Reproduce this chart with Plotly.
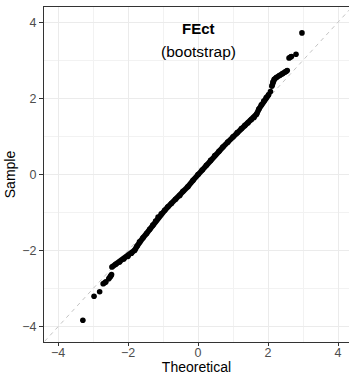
import plotly.graph_objects as go

# Normal Q-Q plot of bootstrap estimates (FEct).
# Each run below is a stretch of points dense enough to read as a solid band;
# isolated tail points are single-element runs.
lower_single_theo = [-3.29, -2.97, -2.81]
lower_single_samp = [-3.83, -3.20, -3.08]

lower_run1_theo = [-2.71, -2.63]
lower_run1_samp = [-2.87, -2.82]

lower_run2_theo = [-2.55, -2.50, -2.47]
lower_run2_samp = [-2.74, -2.68, -2.63]

band_theo = [-2.46, -2.35, -2.24, -2.12, -2.00, -1.90, -1.81, -1.74, -1.67, -1.57,
             -1.47, -1.38, -1.29, -1.21, -1.14, -1.05, -0.95, -0.86, -0.76, -0.64,
             -0.52, -0.43, -0.29, -0.14, 0.00, 0.12, 0.24, 0.36, 0.48, 0.60,
             0.71, 0.85, 1.00, 1.12, 1.24, 1.34, 1.43, 1.52, 1.60, 1.67,
             1.74, 1.81, 1.88, 1.95, 2.02]
band_samp = [-2.43, -2.36, -2.30, -2.22, -2.15, -2.07, -1.99, -1.88, -1.77, -1.66,
             -1.55, -1.44, -1.33, -1.22, -1.12, -1.03, -0.94, -0.85, -0.76, -0.65,
             -0.55, -0.44, -0.32, -0.15, 0.00, 0.12, 0.24, 0.37, 0.50, 0.61,
             0.72, 0.85, 0.99, 1.10, 1.21, 1.29, 1.36, 1.44, 1.50, 1.58,
             1.72, 1.83, 1.93, 2.02, 2.10]

upper_single1_theo = [2.07]
upper_single1_samp = [2.18]

upper_run1_theo = [2.11, 2.14, 2.18, 2.24, 2.33, 2.42, 2.50, 2.55]
upper_run1_samp = [2.32, 2.43, 2.50, 2.55, 2.60, 2.65, 2.70, 2.73]

upper_run2_theo = [2.60, 2.67]
upper_run2_samp = [3.06, 3.10]

upper_single2_theo = [2.80, 2.97]
upper_single2_samp = [3.16, 3.72]

runs = [
    (lower_single_theo[0:1], lower_single_samp[0:1]),
    (lower_single_theo[1:2], lower_single_samp[1:2]),
    (lower_single_theo[2:3], lower_single_samp[2:3]),
    (lower_run1_theo, lower_run1_samp),
    (lower_run2_theo, lower_run2_samp),
    (band_theo, band_samp),
    (upper_single1_theo, upper_single1_samp),
    (upper_run1_theo, upper_run1_samp),
    (upper_run2_theo, upper_run2_samp),
    (upper_single2_theo[0:1], upper_single2_samp[0:1]),
    (upper_single2_theo[1:2], upper_single2_samp[1:2]),
]

xs, ys = [], []
for tx, sy in runs:
    xs += list(tx) + [None]
    ys += list(sy) + [None]

# identity reference line
ref_vals = [-5, 5]

x_ticks = [-4, -2, 0, 2, 4]
y_ticks = [-4, -2, 0, 2, 4]

FONT = "Liberation Sans, Arial, Helvetica, sans-serif"

fig = go.Figure()
fig.add_trace(go.Scatter(
    x=ref_vals, y=ref_vals, mode="lines",
    line=dict(color="#C4C4C4", width=1, dash="4px,4px"),
    hoverinfo="skip", showlegend=False,
))
fig.add_trace(go.Scatter(
    x=xs, y=ys, mode="lines+markers",
    line=dict(color="black", width=5.6),
    marker=dict(color="black", size=5.6),
    connectgaps=False, showlegend=False,
))

fig.add_annotation(x=0, y=3.84, xref="x", yref="y", text="<b>FEct</b>",
                   showarrow=False, font=dict(family=FONT, size=15, color="black"))
fig.add_annotation(x=0, y=3.23, xref="x", yref="y", text="(bootstrap)",
                   showarrow=False, font=dict(family=FONT, size=15.5, color="black"))

axis_common = dict(
    showgrid=True, gridcolor="#EBEBEB", gridwidth=1.1,
    zeroline=False,
    showline=True, linecolor="#333333", linewidth=1,
    ticks="outside", tickwidth=1, tickcolor="#333333",
    tickfont=dict(family=FONT, size=12.5, color="#4D4D4D"),
    minor=dict(dtick=1, tick0=0, showgrid=True, gridcolor="#F2F2F2", gridwidth=0.6),
)

fig.update_xaxes(
    range=[-4.4, 4.314], tickvals=x_ticks, mirror=True,
    ticklen=3, ticklabelstandoff=-4,
    title=dict(text="Theoretical", font=dict(family=FONT, size=14, color="black"),
               standoff=1),
    **axis_common,
)
fig.update_yaxes(
    range=[-4.4, 4.4], tickvals=y_ticks, mirror=False,
    ticklen=4,
    title=dict(text="Sample", font=dict(family=FONT, size=14, color="black"),
               standoff=3),
    **axis_common,
)

fig.update_layout(
    width=349, height=375,
    margin=dict(l=44, r=0, t=7, b=33),
    paper_bgcolor="white", plot_bgcolor="white",
    font=dict(family=FONT),
)

fig.write_html("out.html")
